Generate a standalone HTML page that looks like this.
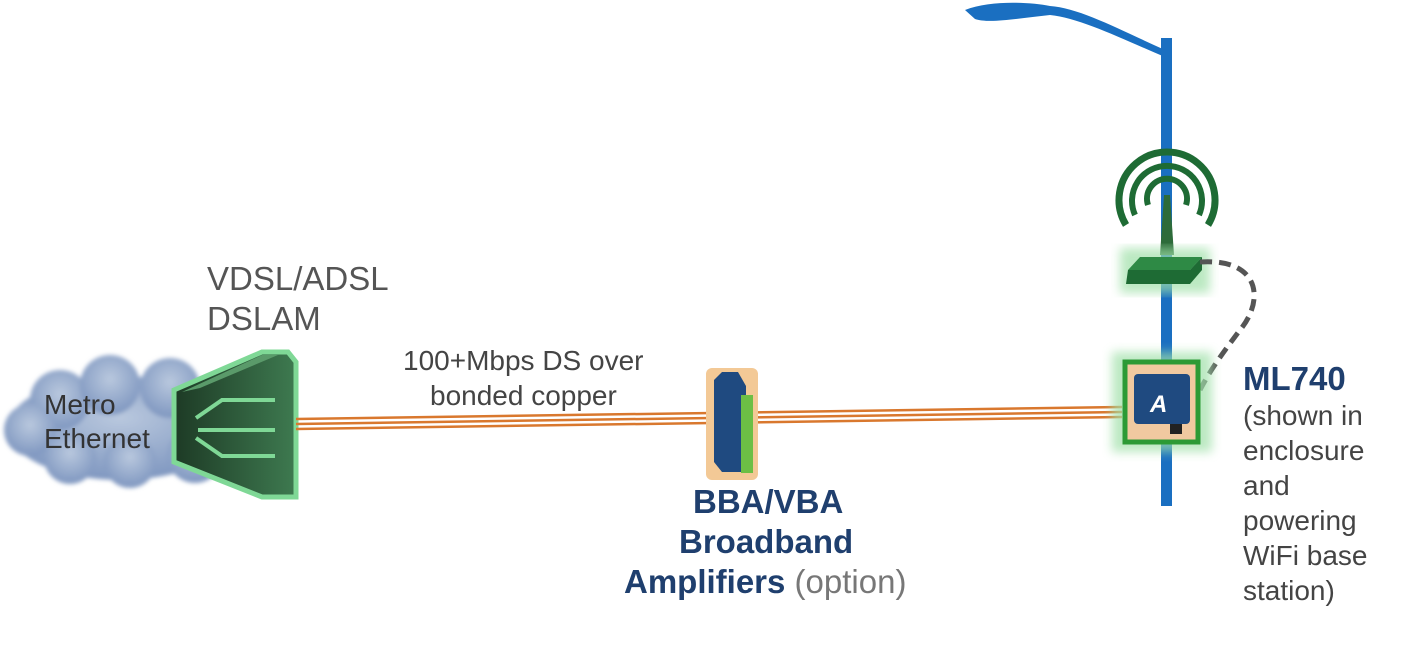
<!DOCTYPE html>
<html><head><style>
body{margin:0;background:#fff;width:1428px;height:645px;overflow:hidden}
svg text{font-family:"Liberation Sans",sans-serif}
</style></head><body>
<svg width="1428" height="645" viewBox="0 0 1428 645" xmlns="http://www.w3.org/2000/svg">
<defs>
<radialGradient id="cl" cx="0.5" cy="0.4" r="0.6"><stop offset="0" stop-color="#b9c8de"/><stop offset="1" stop-color="#7f97c0"/></radialGradient>
<linearGradient id="ds" x1="0" x2="1"><stop offset="0" stop-color="#1d3a25"/><stop offset="1" stop-color="#3e7a50"/></linearGradient>
<filter id="gl"><feGaussianBlur stdDeviation="5"/></filter>
<filter id="sm"><feGaussianBlur stdDeviation="2"/></filter>
</defs>
<!-- cloud -->
<g fill="url(#cl)" filter="url(#sm)">
<ellipse cx="120" cy="428" rx="112" ry="52"/>
<circle cx="60" cy="400" r="30"/><circle cx="110" cy="385" r="30"/><circle cx="170" cy="388" r="30"/>
<circle cx="30" cy="430" r="26"/><circle cx="70" cy="458" r="26"/><circle cx="130" cy="462" r="26"/><circle cx="195" cy="455" r="28"/>
</g>
<text x="44" y="414" font-size="28" fill="#333">Metro</text>
<text x="44" y="448" font-size="28" fill="#333">Ethernet</text>
<!-- DSLAM -->
<polygon points="174,390 262,352 288,352 296,362 296,497 262,497 174,462" fill="url(#ds)" stroke="#7fd896" stroke-width="5"/>
<polygon points="182,392 200,388 278,355 262,355" fill="#5a9a6a"/>
<g stroke="#7fd896" stroke-width="4" fill="none">
<path d="M275,400 H222 L196,418"/><path d="M275,430 H198"/><path d="M275,456 H222 L196,438"/>
</g>
<text x="207" y="290" font-size="33" fill="#555">VDSL/ADSL</text>
<text x="207" y="330" font-size="33" fill="#555">DSLAM</text>
<!-- copper -->
<g stroke="#d9782e" stroke-width="2.5">
<line x1="296" y1="419" x2="1122" y2="407"/><line x1="296" y1="424" x2="1122" y2="412"/><line x1="296" y1="429" x2="1122" y2="417"/>
</g>
<text x="403" y="370" font-size="28" fill="#444">100+Mbps DS over</text>
<text x="430" y="405" font-size="28" fill="#444">bonded copper</text>
<!-- BBA -->
<rect x="706" y="368" width="52" height="112" fill="#f3c996" rx="6"/>
<polygon points="714,380 722,372 738,372 746,386 746,472 722,472 714,462" fill="#1f4a80"/>
<rect x="741" y="395" width="12" height="78" fill="#6cbf45"/>
<text x="693" y="513" font-size="33" font-weight="bold" fill="#1f3f6e">BBA/VBA</text>
<text x="679" y="553" font-size="33" font-weight="bold" fill="#1f3f6e">Broadband</text>
<text x="624" y="593" font-size="33" font-weight="bold" fill="#1f3f6e">Amplifiers <tspan font-weight="normal" fill="#777">(option)</tspan></text>
<!-- pole -->
<rect x="1161" y="38" width="11" height="468" fill="#1a6fc1"/>
<path d="M965,10 C990,0 1030,2 1050,6 C1080,8 1120,30 1165,50 L1165,57 C1120,38 1080,18 1050,15 C1020,18 990,24 975,19 Z" fill="#1a6fc1"/>
<!-- wifi -->
<g fill="none" stroke="#1e6b34" stroke-width="6">
<path d="M1135,215 A35,35 0 1 1 1199,215"/>
<path d="M1126,225 A48,48 0 1 1 1208,225" stroke-width="7"/>
<path d="M1148,205 A20,20 0 1 1 1186,205"/>
</g>
<polygon points="1164,195 1170,195 1174,255 1160,255" fill="#2d6b3a"/>
<rect x="1120" y="248" width="90" height="45" fill="#9fe0a8" filter="url(#gl)" opacity="0.7"/>
<polygon points="1140,257 1202,257 1190,270 1128,270" fill="#2e8a45"/>
<polygon points="1128,270 1190,270 1202,257 1202,270 1190,284 1126,284" fill="#1e6b34"/>
<path d="M1200,262 C1260,258 1265,300 1240,330 C1225,350 1210,370 1200,390" fill="none" stroke="#555" stroke-width="5" stroke-dasharray="12,7"/>
<!-- ML740 -->
<rect x="1112" y="352" width="100" height="100" fill="#9fe0a8" filter="url(#gl)" opacity="0.7"/>
<rect x="1125" y="362" width="73" height="80" fill="#f0c9a0" stroke="#2c9a35" stroke-width="5"/>
<rect x="1134" y="374" width="56" height="50" rx="4" fill="#1f4a80"/>
<text x="1150" y="412" font-size="24" font-style="italic" font-weight="bold" fill="#fff">A</text>
<rect x="1170" y="424" width="12" height="10" fill="#222"/>
<text x="1243" y="390" font-size="33" font-weight="bold" fill="#1f3f6e">ML740</text>
<g font-size="28" fill="#444">
<text x="1243" y="425">(shown in</text><text x="1243" y="460">enclosure</text><text x="1243" y="495">and</text>
<text x="1243" y="530">powering</text><text x="1243" y="565">WiFi base</text><text x="1243" y="600">station)</text>
</g>
</svg>
</body></html>
